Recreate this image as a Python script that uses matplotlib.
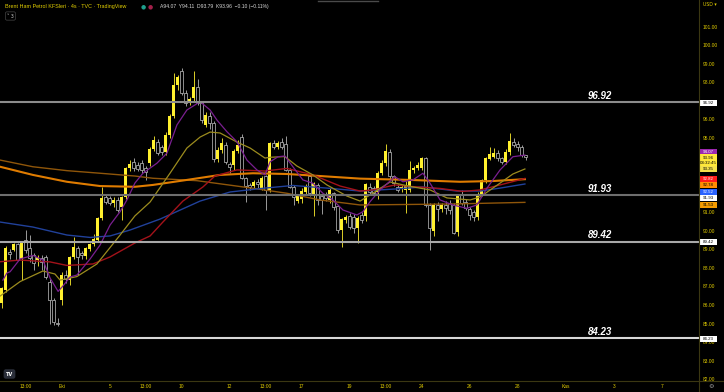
import matplotlib
matplotlib.use("Agg")
import matplotlib.pyplot as plt
from matplotlib.lines import Line2D
from matplotlib.patches import Rectangle
import numpy as np

W, H = 724, 392
PLOT_W, PLOT_H = 698.7, 381.0
PX_PER_PRICE = 18.55

# 4h candles, Brent (TVC)
opens = [86.10, 86.80, 88.85, 88.95, 89.27, 88.50, 89.50, 89.06, 88.69, 88.42,
         88.55, 88.57, 87.25, 86.27, 85.05, 86.27, 87.60, 87.34, 88.57, 89.06,
         88.80, 88.63, 89.00, 89.26, 89.50, 90.67, 91.80, 91.75, 91.48, 91.66,
         91.27, 91.80, 93.36, 93.70, 93.54, 93.65, 93.37, 93.65, 94.40, 94.78,
         94.50, 94.25, 95.16, 96.18, 97.85, 98.63, 97.44, 96.96, 97.14, 97.77,
         96.87, 95.70, 96.18, 95.80, 93.87, 94.33, 94.62, 93.60, 93.54, 94.32,
         95.05, 92.85, 92.45, 92.39, 92.63, 92.30, 92.95, 92.20, 94.72, 94.51,
         94.80, 94.67, 93.27, 92.37, 91.62, 91.70, 92.10, 92.93, 91.85, 92.47,
         91.87, 91.93, 91.66, 92.02, 91.32, 90.04, 90.58, 90.79, 90.74, 90.13,
         90.85, 90.80, 92.37, 92.29, 92.10, 93.13, 93.65, 94.26, 92.93, 92.37,
         92.25, 92.20, 92.20, 93.28, 93.37, 93.37, 93.90, 91.40, 90.00, 91.39,
         91.16, 91.39, 91.48, 91.39, 89.95, 91.93, 91.57, 91.16, 91.03, 90.76,
         91.97, 92.73, 93.85, 94.00, 94.17, 93.90, 93.73, 94.23, 94.80, 94.67,
         94.50, 94.07]
highs = [86.95, 89.17, 89.00, 89.35, 89.35, 89.40, 90.03, 89.77, 88.80, 88.70,
         88.70, 88.70, 87.40, 86.40, 85.30, 87.77, 87.90, 88.65, 89.66, 89.20,
         88.90, 89.15, 89.35, 89.80, 90.75, 92.34, 92.00, 91.90, 91.80, 91.80,
         91.90, 93.45, 93.80, 93.90, 93.70, 93.80, 93.50, 94.50, 95.10, 94.95,
         94.60, 95.30, 96.30, 98.49, 98.40, 98.75, 97.60, 97.20, 98.60, 98.20,
         97.00, 96.40, 96.40, 95.90, 94.50, 95.00, 94.80, 93.70, 94.40, 94.90,
         95.20, 92.90, 92.60, 92.75, 92.80, 92.95, 93.00, 94.80, 94.90, 94.85,
         95.00, 95.10, 93.40, 92.45, 92.00, 92.30, 92.50, 93.10, 92.65, 92.60,
         92.00, 92.10, 92.30, 92.10, 91.40, 90.70, 90.85, 90.95, 90.90, 90.80,
         91.00, 92.60, 92.60, 92.40, 93.20, 93.80, 94.70, 94.40, 93.00, 92.50,
         92.45, 92.70, 93.75, 93.50, 93.70, 94.00, 94.00, 91.50, 91.50, 91.55,
         91.50, 91.60, 91.65, 91.50, 92.00, 92.20, 91.70, 91.30, 91.10, 92.10,
         92.80, 94.00, 94.50, 94.45, 94.35, 94.00, 94.40, 95.25, 95.00, 94.85,
         94.60, 94.11]
lows = [85.83, 86.70, 88.50, 88.90, 88.40, 87.35, 88.80, 88.30, 87.88, 88.10,
        87.90, 87.40, 85.00, 84.91, 84.85, 86.00, 87.20, 87.07, 88.50, 87.60,
        88.50, 88.50, 88.90, 89.20, 89.45, 90.60, 91.45, 91.40, 91.30, 91.00,
        90.60, 91.70, 93.20, 93.20, 93.20, 93.10, 92.73, 93.50, 94.30, 94.10,
        94.10, 94.10, 95.00, 96.10, 97.60, 97.30, 96.70, 96.80, 97.00, 96.80,
        95.80, 95.60, 95.50, 93.70, 93.70, 94.20, 93.60, 93.10, 93.30, 94.20,
        92.80, 91.57, 92.20, 92.30, 92.30, 92.20, 91.10, 92.10, 94.40, 94.40,
        94.40, 93.20, 92.30, 91.40, 91.50, 91.50, 92.00, 91.90, 90.80, 91.40,
        90.90, 91.60, 91.50, 91.10, 89.90, 89.14, 90.40, 90.10, 89.90, 89.32,
        90.40, 90.50, 92.00, 91.90, 91.70, 93.00, 93.50, 92.80, 92.40, 92.10,
        92.10, 90.95, 92.10, 93.10, 93.30, 93.30, 91.30, 88.96, 89.70, 90.50,
        91.00, 90.90, 90.90, 89.80, 89.70, 91.40, 91.10, 90.60, 90.50, 90.60,
        91.90, 92.60, 93.80, 93.90, 93.75, 93.60, 93.60, 94.10, 94.50, 94.30,
        93.95, 93.79]
closes = [86.91, 89.06, 88.75, 89.27, 88.45, 89.32, 88.96, 88.52, 88.25, 88.57,
          88.30, 87.50, 86.27, 85.08, 84.98, 87.60, 87.40, 88.57, 89.10, 88.57,
          88.70, 89.06, 89.26, 89.55, 90.67, 91.75, 91.55, 91.48, 91.66, 91.12,
          91.80, 93.36, 93.60, 93.36, 93.33, 93.28, 93.16, 94.40, 94.89, 94.19,
          94.25, 95.16, 96.18, 97.85, 98.30, 97.40, 96.87, 97.10, 97.77, 96.87,
          95.97, 96.24, 95.80, 93.85, 94.35, 94.73, 93.72, 93.45, 94.32, 94.62,
          92.85, 92.40, 92.36, 92.63, 92.50, 92.85, 92.20, 94.72, 94.51, 94.72,
          94.53, 93.27, 92.37, 91.84, 91.93, 92.16, 92.34, 92.02, 92.55, 91.66,
          91.66, 91.75, 92.20, 91.27, 90.04, 90.61, 90.72, 90.22, 90.13, 90.69,
          90.58, 92.52, 92.10, 92.02, 93.13, 93.65, 94.31, 92.93, 92.56, 92.20,
          92.34, 92.40, 93.28, 93.37, 93.54, 93.90, 91.40, 90.13, 91.39, 91.16,
          91.39, 91.20, 91.12, 89.86, 91.93, 91.48, 91.21, 90.85, 90.76, 91.97,
          92.73, 93.90, 94.13, 94.17, 93.90, 93.72, 94.26, 94.85, 94.62, 94.53,
          94.08, 93.96]

# moving averages, sampled along the lines (bar index, price)
ma_purple_x = [0.3, 1.3, 2.1, 4.6, 7.8, 10.3, 12.1, 14.1, 15.3, 17.1, 18.8, 22.1,
               24.6, 27.1, 29.6, 31.3, 33.3, 35.3, 38.8, 41.3, 43.8, 46.3, 48.3,
               49.6, 52.1, 53.8, 56.3, 58.8, 61.3, 63.8, 65.8, 67.1, 69.1, 70.8,
               72.8, 75.3, 77.8, 80.3, 82.8, 85.3, 88.8, 90.3, 92.1, 94.6, 98.3,
               100.3, 102.8, 105.3, 107.1, 109.6, 112.8, 116.3, 118.8, 121.3,
               124.6, 127.8, 130.8]
ma_purple_y = [87.34, 87.72, 87.79, 88.48, 88.67, 88.42, 87.45, 86.73, 87.02,
               87.51, 87.61, 88.48, 89.23, 90.31, 91.03, 91.66, 92.57, 93.10,
               93.64, 94.18, 95.70, 96.51, 96.78, 96.96, 96.51, 95.97, 95.34,
               94.80, 93.81, 93.28, 93.01, 93.72, 93.99, 94.03, 93.45, 92.74,
               92.56, 92.02, 91.66, 91.12, 90.85, 91.03, 91.57, 92.20, 92.91,
               92.64, 92.74, 93.10, 92.56, 91.66, 91.39, 91.21, 91.39, 92.29,
               93.28, 93.99, 94.08]

ma_olive_x = [-0.4, 4.6, 10.3, 13.3, 14.6, 18.8, 23.8, 29.6, 33.3, 37.1, 42.1,
              46.3, 49.6, 52.1, 54.6, 58.8, 62.1, 65.8, 67.1, 70.8, 73.8, 77.8,
              81.3, 86.3, 89.6, 92.1, 97.1, 102.1, 107.1, 111.3, 117.1, 119.6,
              124.6, 127.8, 130.8]
ma_olive_y = [86.48, 87.26, 87.83, 87.67, 87.34, 87.53, 88.21, 89.77, 90.80,
              91.55, 93.11, 94.46, 95.05, 95.32, 95.27, 94.78, 94.46, 93.92,
              93.96, 94.00, 93.49, 93.01, 92.47, 91.87, 91.60, 91.93, 92.63,
              92.39, 92.20, 91.77, 91.66, 91.82, 92.57, 93.06, 93.33]

ma_red_x = [-0.4, 4.6, 12.1, 16.3, 22.8, 27.1, 33.3, 37.1, 40.3, 45.3, 50.3, 53.3,
            58.8, 65.8, 71.3, 77.8, 84.6, 89.6, 92.8, 98.3, 102.1, 109.6, 115.3,
            119.6, 124.6, 130.8]
ma_red_y = [88.33, 88.42, 88.32, 88.13, 88.21, 88.59, 89.34, 89.72, 90.47, 91.60,
            92.36, 92.95, 93.28, 93.22, 93.36, 93.01, 92.41, 92.14, 92.20, 92.47,
            92.39, 92.28, 92.12, 92.20, 92.47, 92.82]

ma_blue_x = [-0.4, 7.8, 16.3, 22.1, 27.1, 32.1, 39.6, 49.6, 57.1, 65.8, 72.8,
             81.3, 89.6, 98.3, 105.3, 113.8, 119.6, 124.6, 130.8]
ma_blue_y = [90.47, 90.20, 89.77, 89.64, 89.72, 90.04, 90.63, 91.60, 92.09, 92.30,
             92.44, 92.30, 92.14, 92.25, 92.36, 92.14, 92.14, 92.30, 92.52]

ma_orange_x = [-0.4, 7.8, 16.3, 24.6, 33.3, 37.8, 46.3, 54.6, 62.8, 71.3, 79.6,
               89.6, 102.1, 114.6, 122.8, 130.8]
ma_orange_y = [93.45, 93.01, 92.64, 92.41, 92.37, 92.47, 92.74, 93.01, 93.10,
               93.06, 92.95, 92.81, 92.74, 92.64, 92.68, 92.78]

ma_brown_x = [-0.4, 7.8, 16.3, 24.6, 33.3, 37.8, 48.8, 62.8, 71.3, 79.6, 89.6,
              112.1, 130.8]
ma_brown_y = [93.81, 93.45, 93.24, 93.10, 92.95, 92.83, 92.70, 92.29, 92.02,
              91.66, 91.39, 91.44, 91.53]

# horizontal levels drawn on the chart
levels = [96.92, 91.93, 89.42, 84.23]
level_colors = ["#8c8c8c", "#6e6e6e", "#a8a8a8", "#d8d8d8"]

# time axis
time_ticks = [6, 15, 27, 36, 45, 57, 66, 75, 87, 96, 105, 117, 129, 141, 153, 165]
time_labels = ["13:00", "Eki", "5", "13:00", "10", "12", "13:00", "17", "19",
               "13:00", "24", "26", "28", "Kas", "3", "7"]
price_ticks = [82, 83, 84, 85, 86, 87, 88, 89, 90, 91, 95, 96, 98, 99, 100, 101]

# price-scale tags: (text, background, text colour, row in px from top)
tags = [
    ("96.92", "#ffffff", "#000000", 103.0),
    ("94.07", "#9c27b0", "#ffffff", 151.7),
    ("93.96\n03:32:45", "#ffe83a", "#000000", 160.5),
    ("93.35", "#f4e04a", "#000000", 169.3),
    ("92.82", "#ff1c1c", "#ffffff", 179.0),
    ("92.78", "#ff8c00", "#000000", 185.3),
    ("92.52", "#2962ff", "#ffffff", 192.0),
    ("91.93", "#ffffff", "#000000", 197.7),
    ("91.53", "#f59b00", "#000000", 204.7),
    ("89.42", "#ffffff", "#000000", 241.7),
    ("84.23", "#ffffff", "#000000", 338.7),
]

BG = "#000000"
UP = "#fff02e"
DOWN_EDGE = "#b4b4b4"
AXIS_TXT = "#e0cb00"
BORDER = "#3b3712"
SCALE_FONT = "Liberation Sans"

y_top = 101 + 26.7 / PX_PER_PRICE
y_bot = y_top - PLOT_H / PX_PER_PRICE


def px_to_price(row):
    return y_top - row / PX_PER_PRICE


fig = plt.figure(figsize=(W / 100, H / 100), dpi=100, facecolor=BG)
ax = fig.add_axes([0, (H - PLOT_H) / H, PLOT_W / W, PLOT_H / H], facecolor=BG)
ax.set_xlim(-0.425, -0.425 + PLOT_W / 4.0)
ax.set_ylim(y_bot, y_top)
for s in ax.spines.values():
    s.set_visible(False)

o = np.array(opens)
hi = np.array(highs)
lo = np.array(lows)
c = np.array(closes)
idx = np.arange(len(o))
up = c >= o
body_lo = np.minimum(o, c)
body_h = np.maximum(np.abs(c - o), 0.04)

ax.vlines(idx[up], lo[up], hi[up], color=UP, lw=0.6, zorder=2)
ax.vlines(idx[~up], lo[~up], hi[~up], color=DOWN_EDGE, lw=0.6, zorder=2)
ax.bar(idx[up], body_h[up], bottom=body_lo[up], width=0.68, color=UP, lw=0, zorder=3)
ax.bar(idx[~up], body_h[~up], bottom=body_lo[~up], width=0.62, facecolor=BG,
       edgecolor=DOWN_EDGE, lw=0.55, zorder=3)

ax.plot(ma_brown_x, ma_brown_y, color="#8f560a", lw=1.0, zorder=4)
ax.plot(ma_orange_x, ma_orange_y, color="#e07c00", lw=1.5, zorder=4)
ax.plot(ma_blue_x, ma_blue_y, color="#21419a", lw=1.0, zorder=4)
ax.plot(ma_red_x, ma_red_y, color="#a3121a", lw=1.0, zorder=4)
ax.plot(ma_olive_x, ma_olive_y, color="#9c8c1e", lw=0.9, zorder=4)
ax.plot(ma_purple_x, ma_purple_y, color="#7a1f90", lw=0.9, zorder=4)

for lvl, col in zip(levels, level_colors):
    ax.axhline(lvl, color=col, lw=1.5, zorder=5)
    ax.annotate(f"{lvl:.2f}", xy=(612 / PLOT_W, lvl), xycoords=ax.get_yaxis_transform(),
                xytext=(0, 2.2), textcoords="offset points", ha="right", va="baseline",
                fontsize=7, fontweight="bold", fontstyle="italic", color="white",
                family=SCALE_FONT, zorder=6)

ax.yaxis.tick_right()
ax.set_yticks(price_ticks, [f"{p:.2f}" for p in price_ticks])
ax.tick_params(axis="y", length=0, pad=3.0, labelsize=3.5, labelcolor=AXIS_TXT)
ax.set_xticks(time_ticks, time_labels)
ax.tick_params(axis="x", length=0, pad=2.4, labelsize=3.5, labelcolor=AXIS_TXT)
for lab in ax.get_xticklabels() + ax.get_yticklabels():
    lab.set_family(SCALE_FONT)

# coloured tags on the price scale
tag_x = 699.5 / PLOT_W
tag_w = 17.0 / PLOT_W
for text, bg, fg, row in tags:
    n_lines = text.count("\n") + 1
    h_px = 6.2 * n_lines
    yc = px_to_price(row)
    h = h_px / PX_PER_PRICE
    ax.add_patch(Rectangle((tag_x, yc - h / 2), tag_w, h, transform=ax.get_yaxis_transform(),
                           facecolor=bg, edgecolor="none", clip_on=False, zorder=7))
    ax.text(tag_x + tag_w / 2, yc, text, transform=ax.get_yaxis_transform(), ha="center",
            va="center", fontsize=3.2, color=fg, family=SCALE_FONT, linespacing=1.3,
            clip_on=False, zorder=8)

# frame lines of the scales
fig.add_artist(Line2D([0, 1], [(H - PLOT_H) / H] * 2, color=BORDER, lw=0.8))
fig.add_artist(Line2D([PLOT_W / W] * 2, [0, 1], color=BORDER, lw=0.8))
fig.add_artist(Line2D([318 / W, 378 / W], [0.998, 0.998], color="#4a4a4a", lw=1.0))

# header
fig.text(5 / W, 1 - 6.5 / H, "Brent Ham Petrol KFSleri · 4s · TVC · TradingView",
         fontsize=3.9, color="#e3cf00", family=SCALE_FONT, va="center")
fig.text(143 / W, 1 - 6.5 / H, "●", fontsize=4.2, color="#1f9e8c", ha="center", va="center")
fig.text(150 / W, 1 - 6.5 / H, "●", fontsize=4.2, color="#a3204a", ha="center", va="center")
fig.text(160 / W, 1 - 6.5 / H, "A94.07  Y94.11  D93.79  K93.96  −0.10 (−0.11%)",
         fontsize=3.6, color="#d8d8d8", family=SCALE_FONT, va="center")
fig.text(7 / W, 1 - 16 / H, "˅ 3", fontsize=3.4, color="#cfcfcf", family="DejaVu Sans",
         va="center", bbox=dict(boxstyle="round,pad=0.35", fc=BG, ec="#444444", lw=0.5))
fig.text(703 / W, 1 - 5 / H, "USD ▾", fontsize=3.3, color=AXIS_TXT, va="center",
         family="DejaVu Sans")

# TradingView logo and settings icon
fig.text(9.5 / W, 1 - 374 / H, "TV", fontsize=3.6, fontweight="bold", color="white",
         ha="center", va="center", family="DejaVu Sans",
         bbox=dict(boxstyle="round,pad=0.45", fc="#2a2e39", ec="none"))
fig.text(711 / W, 1 - 386.5 / H, "⚙", fontsize=4.5, color="#9a9a9a", ha="center",
         va="center", family="DejaVu Sans")

fig.savefig("out.png", dpi=100, facecolor=BG)
